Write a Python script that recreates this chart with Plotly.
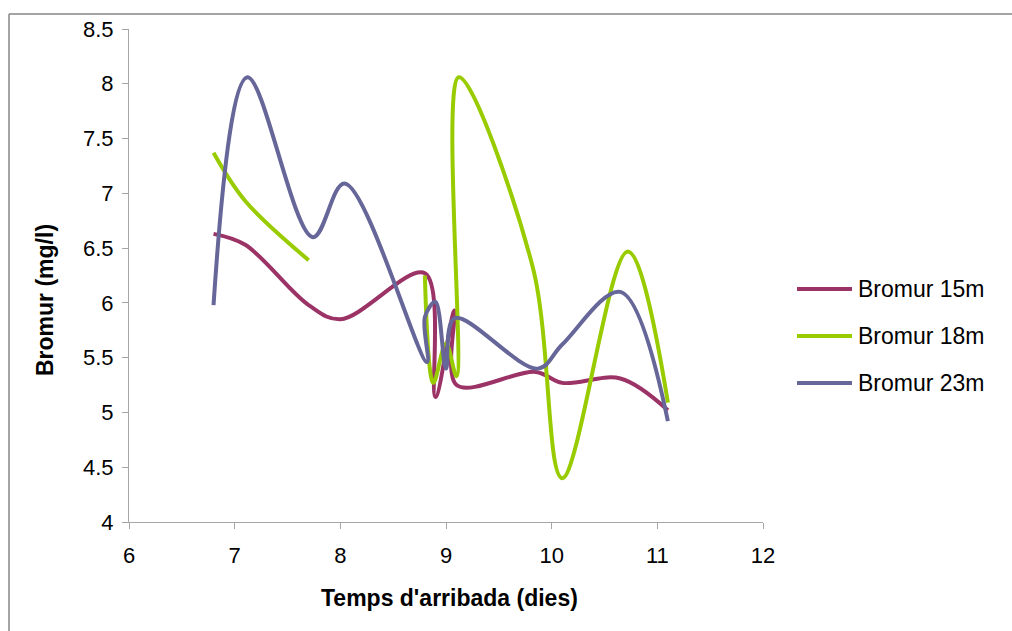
import plotly.graph_objects as go

# Arrival time (days) and bromide concentration (mg/l) per sampling depth
days_15 = [6.8, 7.1, 7.7, 8.0, 8.8, 8.9, 9.08, 9.1, 9.85, 10.1, 10.65, 11.1]
bromur_15 = [6.63, 6.53, 5.98, 5.85, 6.27, 5.14, 5.93, 5.25, 5.37, 5.27, 5.31, 5.02]

days_18 = [6.8, 7.1, 7.7, 8.0, 8.8, 8.88, 9.0, 9.1, 9.12, 9.82, 10.1, 10.72, 11.1]
bromur_18 = [7.37, 6.93, 6.39, None, 6.25, 5.27, 5.63, 5.33, 8.06, 6.33, 4.4, 6.47, 5.09]

days_23 = [6.8, 7.12, 7.74, 8.04, 8.82, 8.8, 8.9, 9.0, 9.08, 9.87, 10.1, 10.65, 11.1]
bromur_23 = [5.98, 8.06, 6.6, 7.09, 5.46, 5.87, 6.01, 5.4, 5.86, 5.4, 5.62, 6.1, 4.92]

series_names = ["Bromur 15m", "Bromur 18m", "Bromur 23m"]
series_colors = ["#9b3366", "#99cc00", "#666699"]

x_ticks = [6, 7, 8, 9, 10, 11, 12]
y_ticks = [4, 4.5, 5, 5.5, 6, 6.5, 7, 7.5, 8, 8.5]
y_tick_text = ["4", "4.5", "5", "5.5", "6", "6.5", "7", "7.5", "8", "8.5"]

W, H = 1012, 631
L, R, T, B = 129, 763, 29, 522  # plot area in pixels

def px_x(p):
    return (p - L) / (R - L)

def px_y(p):
    return (B - p) / (B - T)

FONT = "Liberation Sans, Arial, sans-serif"

fig = go.Figure()
for xs, ys, name, color in zip(
    [days_15, days_18, days_23],
    [bromur_15, bromur_18, bromur_23],
    series_names,
    series_colors,
):
    fig.add_trace(
        go.Scatter(
            x=xs, y=ys, name=name, mode="lines",
            line=dict(color=color, width=4, shape="spline", smoothing=1.0),
            connectgaps=False, showlegend=False,
        )
    )

axis_common = dict(
    showgrid=False, zeroline=False, showline=True, linecolor="#a6a6a6",
    linewidth=1, ticks="outside", ticklen=6, tickcolor="#a6a6a6",
    tickfont=dict(family=FONT, size=22, color="#000000"),
)
fig.update_xaxes(range=[6, 12], tickvals=x_ticks, ticklabelstandoff=8, **axis_common)
fig.update_yaxes(range=[4, 8.5], tickvals=y_ticks, ticktext=y_tick_text,
                 ticklabelstandoff=4, **axis_common)

shapes = [
    # outer chart frame (top and left edges)
    dict(type="line", xref="paper", yref="paper", x0=px_x(9), x1=px_x(1012),
         y0=px_y(14), y1=px_y(14), line=dict(color="#868686", width=1.5)),
    dict(type="line", xref="paper", yref="paper", x0=px_x(9), x1=px_x(9),
         y0=px_y(14), y1=px_y(631), line=dict(color="#868686", width=1.5)),
]
annotations = [
    dict(text="<b>Temps d'arribada (dies)</b>", xref="paper", yref="paper",
         x=px_x(449), y=px_y(598), xanchor="center", yanchor="middle",
         showarrow=False, font=dict(family=FONT, size=23, color="#000000")),
    dict(text="<b>Bromur (mg/l)</b>", xref="paper", yref="paper",
         x=px_x(45), y=px_y(300), xanchor="center", yanchor="middle",
         showarrow=False, textangle=-90,
         font=dict(family=FONT, size=23, color="#000000")),
]

# legend entries
legend_rows = [289, 336, 383]
for name, color, row in zip(series_names, series_colors, legend_rows):
    shapes.append(dict(type="line", xref="paper", yref="paper",
                       x0=px_x(797), x1=px_x(852), y0=px_y(row), y1=px_y(row),
                       line=dict(color=color, width=4)))
    annotations.append(dict(text=name, xref="paper", yref="paper",
                            x=px_x(856), y=px_y(row), xanchor="left",
                            yanchor="middle", showarrow=False,
                            font=dict(family=FONT, size=23, color="#000000")))

fig.update_layout(
    width=W, height=H,
    margin=dict(l=L, r=W - R, t=T, b=H - B, pad=0),
    paper_bgcolor="#ffffff", plot_bgcolor="#ffffff",
    shapes=shapes, annotations=annotations,
    font=dict(family=FONT),
)

fig.write_html("out.html")
